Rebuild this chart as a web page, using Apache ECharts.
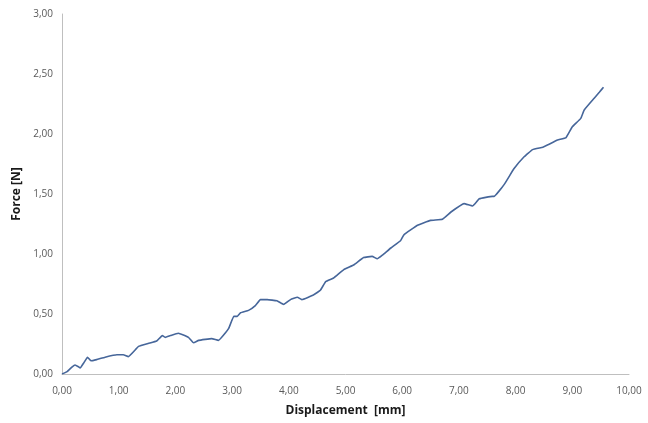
<!DOCTYPE html>
<html>
<head>
<meta charset="utf-8">
<script src="https://cdn.jsdelivr.net/npm/echarts@6/dist/echarts.min.js"></script>
<style>
  html, body { margin: 0; padding: 0; background: #fff; }
  #chart { width: 648px; height: 423px; }
</style>
</head>
<body>
<div id="chart"></div>
<script>
// displacement [mm]
const displacement = [
  0.00, 0.09, 0.18, 0.23, 0.29, 0.32, 0.38, 0.45, 0.51, 0.61, 0.76, 0.97, 1.08, 1.17,
  1.35, 1.52, 1.67, 1.77, 1.82, 1.91, 2.05, 2.23, 2.32, 2.41, 2.64, 2.76, 2.85, 2.94,
  3.03, 3.09, 3.15, 3.29, 3.41, 3.50, 3.62, 3.79, 3.91, 4.03, 4.15, 4.23, 4.44, 4.56,
  4.65, 4.79, 4.97, 5.15, 5.32, 5.47, 5.56, 5.65, 5.80, 5.97, 6.03, 6.27, 6.50, 6.71,
  6.86, 7.09, 7.24, 7.36, 7.59, 7.62, 7.80, 7.97, 8.15, 8.30, 8.48, 8.57, 8.74, 8.89,
  9.00, 9.15, 9.21, 9.39, 9.48, 9.55
];
// force [N]
const force = [
  0.00, 0.02, 0.06, 0.075, 0.06, 0.05, 0.09, 0.14, 0.11, 0.12, 0.14, 0.16, 0.16, 0.145,
  0.23, 0.255, 0.275, 0.32, 0.305, 0.32, 0.34, 0.305, 0.26, 0.28, 0.295, 0.28, 0.325, 0.38,
  0.48, 0.48, 0.51, 0.53, 0.57, 0.62, 0.62, 0.61, 0.58, 0.62, 0.64, 0.62, 0.66, 0.70,
  0.77, 0.80, 0.87, 0.91, 0.97, 0.98, 0.96, 0.99, 1.05, 1.11, 1.16, 1.24, 1.28, 1.29,
  1.35, 1.42, 1.40, 1.46, 1.48, 1.48, 1.58, 1.71, 1.81, 1.87, 1.89, 1.91, 1.95, 1.97,
  2.06, 2.13, 2.20, 2.30, 2.35, 2.39
];

const fmt = v => v.toFixed(2).replace('.', ',');
const labelFont = { color: '#595959', fontSize: 10, fontFamily: 'Open Sans' };

const chart = echarts.init(document.getElementById('chart'));
chart.setOption({
  animation: false,
  grid: { left: 62, right: 19, top: 14, bottom: 49 },
  xAxis: {
    type: 'value',
    min: 0, max: 10, interval: 1,
    name: 'Displacement  [mm]',
    nameLocation: 'middle',
    nameGap: 31,
    nameTextStyle: { fontSize: 12, fontWeight: 'bold', color: '#1a1a1a', fontFamily: 'Open Sans' },
    axisLine: { lineStyle: { color: '#bfbfbf' } },
    axisTick: { show: false },
    splitLine: { show: false },
    axisLabel: Object.assign({ formatter: fmt, margin: 12 }, labelFont)
  },
  yAxis: {
    type: 'value',
    min: 0, max: 3, interval: 0.5,
    name: 'Force [N]',
    nameLocation: 'middle',
    nameGap: 36,
    nameTextStyle: { fontSize: 12, fontWeight: 'bold', color: '#1a1a1a', fontFamily: 'Open Sans' },
    axisLine: { show: true, lineStyle: { color: '#bfbfbf' } },
    axisTick: { show: false },
    splitLine: { show: false },
    axisLabel: Object.assign({ formatter: fmt, margin: 9 }, labelFont)
  },
  series: [{
    type: 'line',
    data: displacement.map((x, i) => [x, force[i]]),
    showSymbol: false,
    smooth: 0.1,
    lineStyle: { color: '#46669a', width: 1.6 }
  }]
});
</script>
</body>
</html>
